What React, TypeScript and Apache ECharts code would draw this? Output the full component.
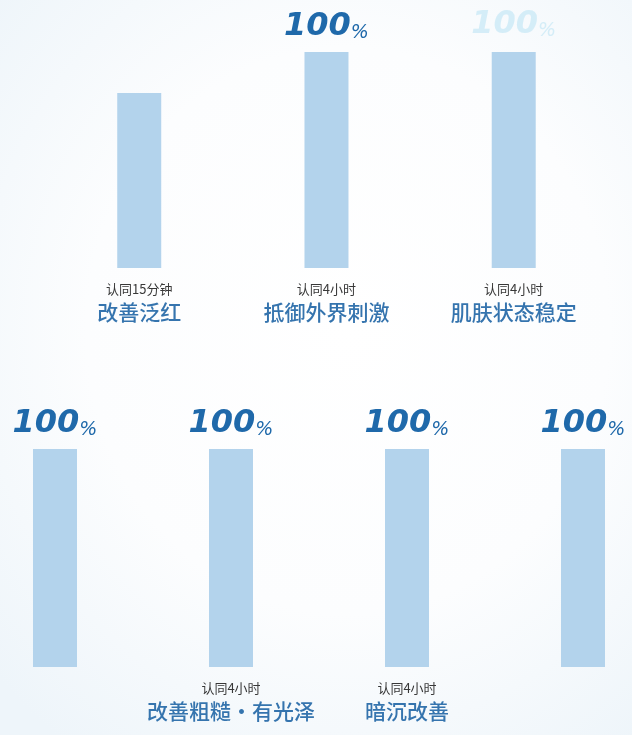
import React, { useEffect, useRef } from "react";
import * as echarts from "echarts";

const topCategories = ["改善泛红", "抵御外界刺激", "肌肤状态稳定"];
const topNotes = ["认同15分钟", "认同4小时", "认同4小时"];
const topValues = [81, 100, 100];
const topShowLabel = [false, true, true];
const topFaintLabel = [false, false, true];

const bottomCategories = ["", "改善粗糙·有光泽", "暗沉改善", ""];
const bottomNotes = ["", "认同4小时", "认同4小时", ""];
const bottomValues = [100, 100, 100, 100];

const BAR_COLOR = "#b3d3ec";
const LABEL_BLUE = "#1f69aa";
const CAT_BLUE = "#3574ae";
const FAINT = "rgba(200,232,246,0.75)";

const valueLabel = (faint: boolean) => ({
  show: true,
  position: "top",
  distance: faint ? 14 : 12,
  formatter: (p: any) => `{n|${p.value}}{p|%}`,
  rich: {
    n: {
      fontFamily: "DejaVu Sans",
      fontSize: 32,
      fontWeight: "bold",
      fontStyle: "italic",
      color: faint ? FAINT : LABEL_BLUE,
      verticalAlign: "bottom",
      lineHeight: 34,
    },
    p: {
      fontFamily: "DejaVu Sans",
      fontSize: 19,
      fontStyle: "italic",
      color: faint ? FAINT : LABEL_BLUE,
      verticalAlign: "bottom",
      lineHeight: 29,
    },
  },
});

const catAxis = (gridIndex: number, cats: string[], notes: string[]) => ({
  type: "category",
  gridIndex,
  data: cats.map((_, i) => String(i)),
  axisLine: { show: false },
  axisTick: { show: false },
  axisLabel: {
    interval: 0,
    margin: 11,
    formatter: (_v: string, i: number) =>
      notes[i] || cats[i] ? `{s|${notes[i]}}\n{b|${cats[i]}}` : "",
    rich: {
      s: {
        fontFamily: "Noto Sans CJK SC",
        fontSize: 13,
        color: "#383838",
        lineHeight: 18,
        align: "center",
      },
      b: {
        fontFamily: "Noto Sans CJK SC",
        fontSize: 21,
        fontWeight: 500,
        color: CAT_BLUE,
        lineHeight: 28,
        align: "center",
      },
    },
  },
});

const valAxis = (gridIndex: number) => ({
  type: "value",
  gridIndex,
  min: 0,
  max: 110,
  show: false,
  splitLine: { show: false },
});

// The chart canvas is wider than the page and shifted left so that the
// bottom row's outer bars can sit close to / past the page edges.
const SHIFT = 40;
const CHART_W = 720;

export default function App() {
  const ref = useRef<HTMLDivElement>(null);
  useEffect(() => {
    if (!ref.current) return;
    const chart = echarts.init(ref.current, undefined, { renderer: "svg" });
    chart.setOption({
      animation: false,
      backgroundColor: "transparent",
      grid: [
        { left: 45.6 + SHIFT, width: 561.75, top: 30.4, bottom: 467 },
        { left: -33 + SHIFT, width: 704, top: 427.2, bottom: 68 },
      ],
      xAxis: [catAxis(0, topCategories, topNotes), catAxis(1, bottomCategories, bottomNotes)],
      yAxis: [valAxis(0), valAxis(1)],
      series: [
        {
          type: "bar",
          xAxisIndex: 0,
          yAxisIndex: 0,
          barWidth: 44,
          clip: false,
          itemStyle: { color: BAR_COLOR },
          data: topValues.map((v, i) => ({
            value: v,
            label: topShowLabel[i] ? valueLabel(topFaintLabel[i]) : { show: false },
          })),
        },
        {
          type: "bar",
          xAxisIndex: 1,
          yAxisIndex: 1,
          barWidth: 44,
          clip: false,
          itemStyle: { color: BAR_COLOR },
          label: valueLabel(false),
          data: bottomValues,
        },
      ],
    });
    return () => chart.dispose();
  }, []);
  return (
    <div
      style={{
        position: "fixed",
        left: 0,
        top: 0,
        width: 632,
        height: 735,
        overflow: "hidden",
        background:
          "radial-gradient(ellipse 75% 70% at 55% 45%, #ffffff 0%, #fcfdfe 55%, #eef5fa 100%)",
      }}
    >
      <div
        ref={ref}
        style={{ position: "absolute", left: -SHIFT, top: 0, width: CHART_W, height: 735 }}
      />
    </div>
  );
}
